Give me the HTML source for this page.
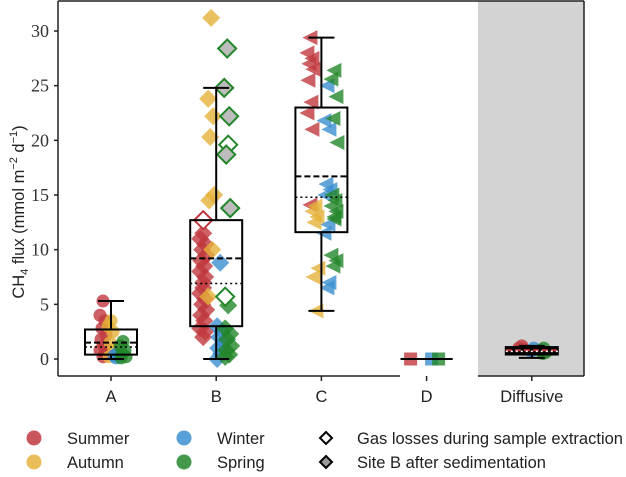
<!DOCTYPE html>
<html><head><meta charset="utf-8"><style>
body{margin:0;background:#fff;width:626px;height:472px;overflow:hidden;font-family:"Liberation Sans",sans-serif}
</style></head><body>
<svg id="chart" width="626" height="472" viewBox="0 0 626 472" xmlns="http://www.w3.org/2000/svg"></svg>
<script>
const categories=["A","B","C","D","Diffusive"];
const yTicks=[0,5,10,15,20,25,30];
// box stats: [whiskerLow, q1, median, mean, q3, whiskerHigh]
const boxStats=[[0,0.4,1.1,1.5,2.7,5.3],[0,3.0,6.9,9.2,12.7,24.8],[4.4,11.6,14.8,16.7,23.0,29.4],[0,0,0,0,0,0],[0.1,0.5,0.7,0.8,1.0,1.2]];
const seasons=["Summer","Autumn","Winter","Spring"];
const seasonColors=["#c0383e","#e5b13a","#3b8fd0","#23862a"];
// values per category & season (filled points)
const aSummer=[5.3,4.0,3.5,2.8,2.2,1.8,1.2,0.8,0.5,0.2];
const aAutumn=[3.5,3.0,2.5,1.5,0.8,0.2];
const aWinter=[0.5,0.3,0.2,0.1];
const aSpring=[1.6,1.2,0.8,0.5,0.2,0.1];
const bSummer=[11.5,11,10.5,10,9.5,9,8.5,8,7.5,7,6.5,6,5.5,5,4.5,4,3.5,2.8,2.5,2.0];
const bAutumn=[31.2,23.8,22.2,20.3,15,14.5,10,5.7];
const bWinter=[8.8,3.0,2.5,2.0,1.5,1.0,0.5,0.0];
const bSpring=[4.9,2.8,2.3,1.8,1.2,0.8,0.4,0.2];
const bHollowSummer=[12.7];
const bHollowSpring=[19.6,5.7];
const bSiteBSpring=[28.4,24.8,22.2,18.7,13.8];
const cSummer=[29.4,28.0,27.5,27.0,26.5,25.5,23.5,22.5,21.0,14.1];
const cAutumn=[14.0,13.5,13.0,12.5,8.3,7.5,4.4];
const cWinter=[25.0,21.8,21.0,16.0,15.5,15.0,12.3,11.5,7.0,6.5];
const cSpring=[26.4,25.6,24.0,22.0,19.8,15.0,14.5,14.0,13.5,13.0,12.8,9.5,9.0,8.5];
const dSummer=[0];const dWinter=[0];const dSpring=[0];
const eSummer=[1.2,1.0,0.9];const eWinter=[1.0,0.7];const eSpring=[1.0,0.8,0.6,0.5];

const groups=[
 [0,0,0,aSummer,-8],[0,1,0,aAutumn,0],[0,2,0,aWinter,6],[0,3,0,aSpring,12],
 [1,0,0,bSummer,-13],[1,1,0,bAutumn,-5],[1,2,0,bWinter,4],[1,3,0,bSpring,12],
 [1,0,1,bHollowSummer,-13],[1,3,1,bHollowSpring,12],[1,3,2,bSiteBSpring,11],
 [2,0,0,cSummer,-11],[2,1,0,cAutumn,-6],[2,2,0,cWinter,6],[2,3,0,cSpring,13],
 [3,0,0,dSummer,-16],[3,2,0,dWinter,5],[3,3,0,dSpring,12],
 [4,0,0,eSummer,-10],[4,2,0,eWinter,2],[4,3,0,eSpring,12]];
const jit=[0,-3,2,-1,3,-2,1,-3,2,0];

const svg=document.getElementById('chart');
const NS="http://www.w3.org/2000/svg";
const L=58,R=584,T=1,B=376;
const xPos=i=>111+i*105.2;
const y=v=>359-v*10.933;
function mk(tag,attrs,parent){const e=document.createElementNS(NS,tag);for(const k in attrs)e.setAttribute(k,attrs[k]);(parent||svg).appendChild(e);return e;}

const bg=mk('rect',{x:478,y:T,width:R-478,height:B-T,fill:'#d3d3d3'});



function marker(cat,cx,cy,fill,stroke,g){
  if(cat===0||cat===4) return mk('circle',{cx,cy,r:6.5,fill,stroke},g);
  if(cat===1) return mk('polygon',{points:`${cx},${cy-9} ${cx+9},${cy} ${cx},${cy+9} ${cx-9},${cy}`,fill,stroke,'stroke-width':2},g);
  if(cat===2) return mk('polygon',{points:`${cx-8},${cy} ${cx+7},${cy-7.5} ${cx+7},${cy+7.5}`,fill,stroke,'stroke-width':2},g);
  return mk('rect',{x:cx-6.5,y:cy-6.5,width:13,height:13,fill,stroke},g);
}
const pg=mk('g',{});


groups.forEach(([cat,s,style,vals,off])=>{
  const c=seasonColors[s];
  vals.forEach((v,k)=>{
    const cx=xPos(cat)+off+(cat===3?0:jit[k%jit.length]), cy=y(v);
    let m;
    if(style===0){m=marker(cat,cx,cy,c,'none',pg);m.setAttribute('opacity','0.8');}
    else if(style===1) m=marker(cat,cx,cy,'#fff',c,pg);
    else m=marker(cat,cx,cy,'#bdbdbd',c,pg);
    
    
  });
});
boxStats.forEach((s,i)=>{
  const g=mk('g',{stroke:'#000',fill:'none','stroke-width':2});
  
  
  const cx=xPos(i),hw=i===3?0:26,cw=i===3?26:13;
  mk('line',{x1:cx,x2:cx,y1:y(s[0]),y2:y(s[1])},g);
  mk('line',{x1:cx,x2:cx,y1:y(s[4]),y2:y(s[5])},g);
  mk('line',{x1:cx-cw,x2:cx+cw,y1:y(s[0]),y2:y(s[0])},g);
  mk('line',{x1:cx-cw,x2:cx+cw,y1:y(s[5]),y2:y(s[5])},g);
  if(hw>0){
    if(i===4) mk('rect',{x:cx-hw,y:y(s[4])-1,width:2*hw,height:y(s[1])-y(s[4])+2,fill:'#000'},g);
    else mk('rect',{x:cx-hw,y:y(s[4]),width:2*hw,height:y(s[1])-y(s[4])},g);
    mk('line',{x1:cx-hw,x2:cx+hw,y1:y(s[3]),y2:y(s[3]),'stroke-dasharray':'6,3',stroke:i===4?'#c33':'#000'},g);
    mk('line',{x1:cx-hw,x2:cx+hw,y1:y(s[2]),y2:y(s[2]),'stroke-dasharray':'2,3','stroke-width':1.5,stroke:i===4?'#fff':'#000'},g);
  }
});
const ax=mk('g',{stroke:'#222','stroke-width':1.5,fill:'none'});


mk('line',{x1:L,x2:L,y1:T,y2:B},ax);
mk('line',{x1:L,x2:R,y1:T,y2:T},ax);
mk('line',{x1:R,x2:R,y1:T,y2:B},ax);
mk('line',{x1:L,x2:400,y1:B,y2:B},ax);
mk('line',{x1:478,x2:R,y1:B,y2:B},ax);
yTicks.forEach(t=>{
  const tk=mk('line',{x1:L-4,x2:L,y1:y(t),y2:y(t),stroke:'#222','stroke-width':1.5});
  
  
  const tx=mk('text',{x:L-9,y:y(t)+6,'text-anchor':'end','font-family':'Liberation Serif, serif','font-size':18,fill:'#333'});
  tx.textContent=t;
  
  
});
categories.forEach((c,i)=>{
  const tk=mk('line',{x1:xPos(i),x2:xPos(i),y1:B,y2:B+5,stroke:'#222','stroke-width':1.5});
  
  
  const tx=mk('text',{x:xPos(i),y:B+26,'text-anchor':'middle','font-size':16.5,fill:'#222'});
  tx.textContent=c;
  
  
});
const yl=mk('text',{transform:'translate(24,212) rotate(-90)','text-anchor':'middle','font-size':16.5,fill:'#222'});


yl.innerHTML='CH<tspan font-size="11" dy="4">4</tspan><tspan dy="-4"> flux (mmol m</tspan><tspan font-size="11" dy="-7">−2</tspan><tspan dy="7"> d</tspan><tspan font-size="11" dy="-7">−1</tspan><tspan dy="7">)</tspan>';
const lg=mk('g',{});


const legPos=[[34,438],[34,462],[184,438],[184,462]];
seasons.forEach((s,i)=>{
  const c=mk('circle',{cx:legPos[i][0],cy:legPos[i][1],r:7.5,fill:seasonColors[i],opacity:0.85},lg);
  
  
  const t=mk('text',{x:legPos[i][0]+33,y:legPos[i][1]+6,'font-size':16.5,fill:'#222'},lg);
  t.textContent=s;
  
  
});
const d1=mk('polygon',{points:'326,432 332,438 326,444 320,438',fill:'#fff',stroke:'#000','stroke-width':2},lg);


const d2=mk('polygon',{points:'326,456 332,462 326,468 320,462',fill:'#999',stroke:'#000','stroke-width':2},lg);


const t1=mk('text',{x:357,y:444,'font-size':16.5,fill:'#222'},lg);
t1.textContent='Gas losses during sample extraction';


const t2=mk('text',{x:357,y:468,'font-size':16.5,fill:'#222'},lg);
t2.textContent='Site B after sedimentation';


</script>
</body></html>
